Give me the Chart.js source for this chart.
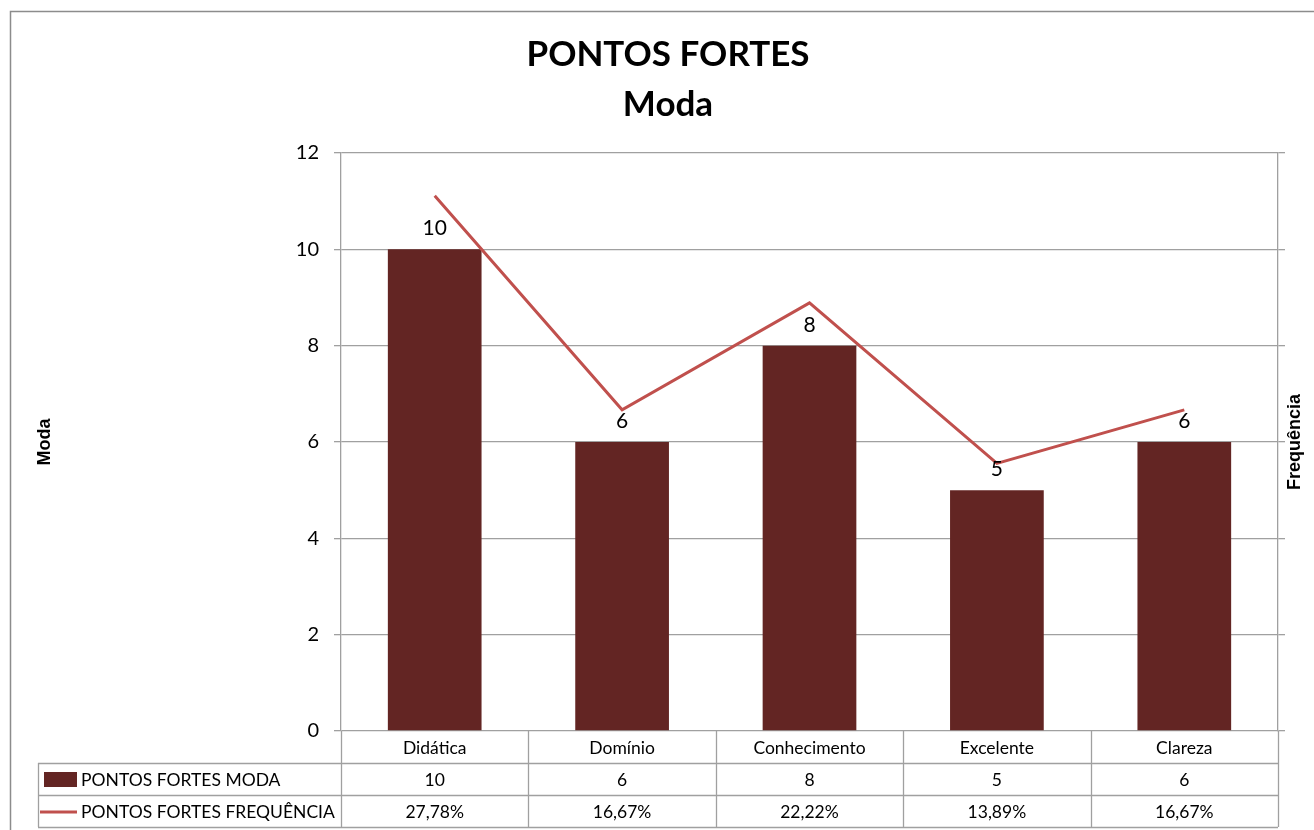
<!DOCTYPE html>
<html>
<head>
<meta charset="utf-8">
<script src="https://cdn.jsdelivr.net/npm/chart.js@4"></script>
<style>
  html, body { margin: 0; padding: 0; background: #fff; }
  #wrap { width: 1314px; height: 830px; }
</style>
</head>
<body>
<div id="wrap"><canvas id="chart" width="1314" height="830"></canvas></div>
<script>
// data
const categories = ['Didática', 'Domínio', 'Conhecimento', 'Excelente', 'Clareza'];
const modaValues = [10, 6, 8, 5, 6];
const freqValues = [27.78, 16.67, 22.22, 13.89, 16.67];
const modaTicks = [0, 2, 4, 6, 8, 10, 12];
const seriesNames = ['PONTOS FORTES MODA', 'PONTOS FORTES FREQUÊNCIA'];

const barColor = '#632523';
const lineColor = '#c0504d';
const gridColor = '#a0a0a0';
const txtFont = 'Lato, "Open Sans", sans-serif';

function fmtPct(v) {
    return v.toFixed(2).replace('.', ',') + '%';
}

// title, axis titles, frame and bar labels
const decorPlugin = {
    id: 'decor',
    afterDraw(chart) {
        const c = chart.ctx;
        c.save();
        // outer frame
        c.strokeStyle = '#8c8c8c';
        c.lineWidth = 1.5;
        c.beginPath();
        c.moveTo(10.5, 840);
        c.lineTo(10.5, 11.5);
        c.lineTo(1330, 11.5);
        c.stroke();

        c.fillStyle = '#000';
        c.textAlign = 'center';
        c.textBaseline = 'alphabetic';
        c.font = 'bold 35px ' + txtFont;
        c.fillText('PONTOS FORTES', 668, 66);
        c.fillText('Moda', 668, 116);

        c.font = 'bold 18px "Liberation Sans", Arial, sans-serif';
        c.textBaseline = 'middle';
        c.save();
        c.translate(45, 442);
        c.rotate(-Math.PI / 2);
        c.fillText('Moda', 0, 0);
        c.restore();
        c.save();
        c.translate(1295, 442);
        c.rotate(-Math.PI / 2);
        c.fillText('Frequência', 0, 0);
        c.restore();

        // value labels above bars
        const meta = chart.getDatasetMeta(0);
        c.textBaseline = 'alphabetic';
        c.font = '21px ' + txtFont;
        meta.data.forEach((bar, i) => {
            c.fillText(String(modaValues[i]), bar.x, bar.y - 14);
        });
        c.restore();
    }
};

// data table under the plot
const tablePlugin = {
    id: 'dataTable',
    afterDraw(chart) {
        const c = chart.ctx;
        const x = chart.scales.x;
        const area = chart.chartArea;
        const rowH = 32;
        const top = area.bottom;
        const tableLeft = 38;
        const half = (x.getPixelForValue(1) - x.getPixelForValue(0)) / 2;
        const edges = categories.map((_, i) => x.getPixelForValue(i) - half);
        edges.push(x.getPixelForValue(categories.length - 1) + half);

        c.save();
        c.strokeStyle = gridColor;
        c.lineWidth = 1.3;
        c.beginPath();
        edges.forEach(e => {
            c.moveTo(Math.round(e) + 0.5, top);
            c.lineTo(Math.round(e) + 0.5, top + rowH * 3);
        });
        for (let r = 1; r <= 3; r++) {
            c.moveTo(tableLeft, top + rowH * r + 0.5);
            c.lineTo(edges[edges.length - 1], top + rowH * r + 0.5);
        }
        c.moveTo(tableLeft + 0.5, top + rowH);
        c.lineTo(tableLeft + 0.5, top + rowH * 3);
        c.stroke();

        c.fillStyle = '#000';
        c.font = '17.5px ' + txtFont;
        c.textAlign = 'center';
        c.textBaseline = 'middle';
        categories.forEach((cat, i) => {
            const cx = x.getPixelForValue(i);
            c.fillText(cat, cx, top + rowH * 0.5 + 1);
            c.fillText(String(modaValues[i]), cx, top + rowH * 1.5 + 1);
            c.fillText(fmtPct(freqValues[i]), cx, top + rowH * 2.5 + 1);
        });

        // legend keys
        c.fillStyle = barColor;
        c.fillRect(44, top + rowH + 9, 33, 15);
        c.strokeStyle = lineColor;
        c.lineWidth = 3;
        c.beginPath();
        c.moveTo(40, top + rowH * 2.5 + 1);
        c.lineTo(77, top + rowH * 2.5 + 1);
        c.stroke();

        c.fillStyle = '#000';
        c.textAlign = 'left';
        c.fillText(seriesNames[0], 81, top + rowH * 1.5 + 1);
        c.fillText(seriesNames[1], 81, top + rowH * 2.5 + 1);
        c.restore();
    }
};

new Chart(document.getElementById('chart').getContext('2d'), {
    type: 'bar',
    data: {
        labels: categories,
        datasets: [{
            type: 'bar',
            label: seriesNames[0],
            data: modaValues,
            backgroundColor: barColor,
            barPercentage: 0.5,
            categoryPercentage: 1.0,
            yAxisID: 'y',
            order: 2
        }, {
            type: 'line',
            label: seriesNames[1],
            data: freqValues,
            borderColor: lineColor,
            borderWidth: 3,
            pointRadius: 0,
            tension: 0,
            yAxisID: 'y1',
            order: 1
        }]
    },
    options: {
        responsive: false,
        animation: false,
        layout: { padding: { top: 153, bottom: 99, left: 0, right: 0 } },
        plugins: {
            legend: { display: false },
            title: { display: false },
            tooltip: { enabled: false }
        },
        scales: {
            x: {
                display: false
            },
            y: {
                position: 'left',
                min: 0,
                max: 12,
                afterBuildTicks(axis) {
                    axis.ticks = modaTicks.map(v => ({ value: v }));
                },
                afterFit(axis) { axis.width = 341; },
                grid: { color: gridColor, lineWidth: 1.3, tickLength: 7 },
                border: { color: gridColor, width: 1.3 },
                ticks: { color: '#000', font: { family: txtFont, size: 20 }, padding: 15 }
            },
            y1: {
                position: 'right',
                min: 0,
                max: 30,
                afterFit(axis) { axis.width = 36; },
                grid: { drawOnChartArea: false, color: gridColor, lineWidth: 1.3, tickLength: 7 },
                border: { color: gridColor, width: 1.3 },
                ticks: { display: false, stepSize: 5 }
            }
        }
    },
    plugins: [decorPlugin, tablePlugin]
});
</script>
</body>
</html>
